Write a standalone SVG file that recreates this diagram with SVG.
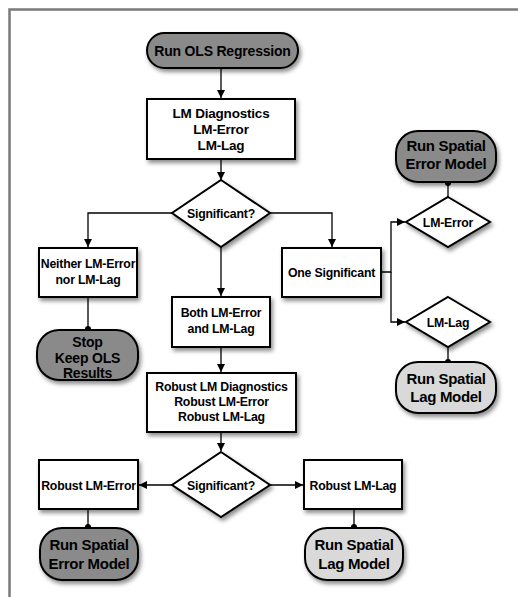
<svg xmlns="http://www.w3.org/2000/svg" width="518" height="597" viewBox="0 0 518 597">
<defs>
<filter id="sh" x="-20%" y="-20%" width="140%" height="150%">
<feDropShadow dx="2" dy="3" stdDeviation="2" flood-color="#000" flood-opacity="0.45"/>
</filter>
<marker id="arr" markerUnits="userSpaceOnUse" markerWidth="9" markerHeight="8" refX="8" refY="4" orient="auto">
<path d="M0,0 L8,4 L0,8 Z" fill="#000"/>
</marker>
<marker id="dot" markerUnits="userSpaceOnUse" markerWidth="8" markerHeight="8" refX="4" refY="4">
<circle cx="4" cy="4" r="3" fill="#000"/>
</marker>
</defs>
<style>
.box{fill:#fff;stroke:#000;stroke-width:2;filter:url(#sh)}
.dark{fill:#8a8a8a;stroke:#000;stroke-width:2;filter:url(#sh)}
.light{fill:#d9d9d9;stroke:#000;stroke-width:2;filter:url(#sh)}
text{font-family:"Liberation Sans",Arial,sans-serif;font-weight:bold;text-anchor:middle;fill:#000}
.t12{font-size:12.3px;letter-spacing:-0.2px}
.t13{font-size:13.5px;letter-spacing:-0.2px}
.t14{font-size:14px;letter-spacing:-0.2px}
.t15{font-size:15px;letter-spacing:-0.3px}
.c{fill:none;stroke:#000;stroke-width:1.3}
</style>
<path d="M9.5,597 V9.5 H518" fill="none" stroke="#7a7a7a" stroke-width="2.5"/>

<g id="connectors">
<path class="c" d="M221,68 V98" marker-end="url(#arr)"/>
<path class="c" d="M221,159 V180" marker-end="url(#arr)"/>
<path class="c" d="M172,213 H88 V247" marker-end="url(#arr)"/>
<path class="c" d="M270,213 H332 V247" marker-end="url(#arr)"/>
<path class="c" d="M221,247 V296" marker-end="url(#arr)"/>
<path class="c" d="M88,297 V329" marker-end="url(#dot)"/>
<path class="c" d="M221,347 V372" marker-end="url(#arr)"/>
<path class="c" d="M221,432 V451" marker-end="url(#arr)"/>
<path class="c" d="M172,485 H139" marker-end="url(#arr)"/>
<path class="c" d="M270,485 H303" marker-end="url(#arr)"/>
<path class="c" d="M88,509 V527" marker-end="url(#dot)"/>
<path class="c" d="M354,509 V527" marker-end="url(#dot)"/>
<path class="c" d="M381,272 H391 V222 H405" marker-end="url(#arr)"/>
<path class="c" d="M391,272 V322 H405" marker-end="url(#arr)"/>
<path class="c" d="M448,197 V183" marker-end="url(#dot)"/>
<path class="c" d="M448,347 V362" marker-end="url(#dot)"/>
</g>

<g id="ols">
<rect class="dark" x="147" y="33" width="151" height="35" rx="17.5"/>
<text class="t14" x="222.5" y="55.5">Run OLS Regression</text>
</g>
<g id="lmdiag">
<rect class="box" x="147" y="99" width="148" height="60"/>
<text class="t13" x="221" y="118">LM Diagnostics</text>
<text class="t13" x="221" y="134">LM-Error</text>
<text class="t13" x="221" y="150">LM-Lag</text>
</g>
<g id="sig1">
<polygon class="box" points="221,180 270,213 221,247 172,213"/>
<text class="t12" x="221" y="217.5">Significant?</text>
</g>
<g id="neither">
<rect class="box" x="39" y="248" width="98" height="49"/>
<text class="t12" x="88" y="268">Neither LM-Error</text>
<text class="t12" x="88" y="283.5">nor LM-Lag</text>
</g>
<g id="stop">
<rect class="dark" x="37" y="330" width="101" height="50" rx="22"/>
<text class="t14" x="87.5" y="347">Stop</text>
<text class="t14" x="87.5" y="362.5">Keep OLS</text>
<text class="t14" x="87.5" y="378">Results</text>
</g>
<g id="both">
<rect class="box" x="172" y="297" width="98" height="50"/>
<text class="t12" x="221" y="316.5">Both LM-Error</text>
<text class="t12" x="221" y="333">and LM-Lag</text>
</g>
<g id="onesig">
<rect class="box" x="282" y="248" width="99" height="49"/>
<text class="t12" x="331.5" y="276.5">One Significant</text>
</g>
<g id="lmerr">
<polygon class="box" points="448,197 490,222 448,247 406,222"/>
<text class="t12" x="448" y="226.5">LM-Error</text>
</g>
<g id="lmlag">
<polygon class="box" points="448,297 490,322 448,347 406,322"/>
<text class="t12" x="448" y="326.5">LM-Lag</text>
</g>
<g id="sem-top">
<rect class="dark" x="396" y="131" width="100" height="51" rx="22"/>
<text class="t15" x="446" y="151">Run Spatial</text>
<text class="t15" x="446" y="168.5">Error Model</text>
</g>
<g id="slm-right">
<rect class="light" x="396" y="362" width="100" height="51" rx="22"/>
<text class="t15" x="446" y="384">Run Spatial</text>
<text class="t15" x="446" y="402">Lag Model</text>
</g>
<g id="robust">
<rect class="box" x="147" y="373" width="149" height="59"/>
<text class="t12" x="221.5" y="390.5">Robust LM Diagnostics</text>
<text class="t12" x="221.5" y="405.5">Robust LM-Error</text>
<text class="t12" x="221.5" y="420.5">Robust LM-Lag</text>
</g>
<g id="sig2">
<polygon class="box" points="221,452 270,485 221,517 172,485"/>
<text class="t12" x="221" y="489.5">Significant?</text>
</g>
<g id="rerr">
<rect class="box" x="39" y="460" width="99" height="49"/>
<text class="t12" x="88.5" y="489.5">Robust LM-Error</text>
</g>
<g id="rlag">
<rect class="box" x="304" y="460" width="98" height="49"/>
<text class="t12" x="353" y="489.5">Robust LM-Lag</text>
</g>
<g id="sem-bottom">
<rect class="dark" x="40" y="528" width="98" height="52" rx="22"/>
<text class="t15" x="89" y="550">Run Spatial</text>
<text class="t15" x="89" y="569">Error Model</text>
</g>
<g id="slm-bottom">
<rect class="light" x="305" y="528" width="98" height="52" rx="22"/>
<text class="t15" x="354" y="550">Run Spatial</text>
<text class="t15" x="354" y="569">Lag Model</text>
</g>
</svg>
